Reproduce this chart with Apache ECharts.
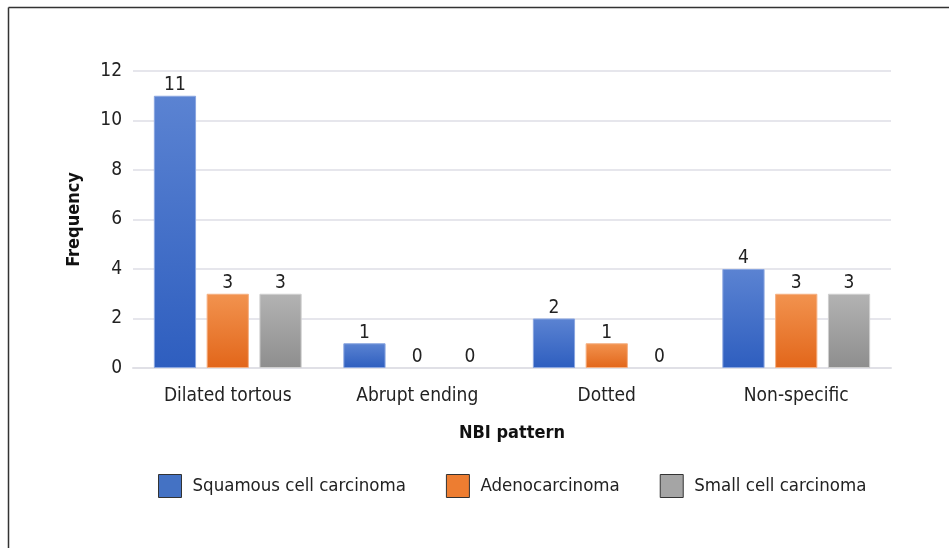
<!DOCTYPE html>
<html><head><meta charset="utf-8">
<script src="https://cdn.jsdelivr.net/npm/echarts@6/dist/echarts.min.js"></script>
<style>html,body{margin:0;padding:0;background:#fff}#c{width:949px;height:548px}</style>
</head><body><div id="c"></div>
<script>
const categories = ['Dilated tortous', 'Abrupt ending', 'Dotted', 'Non-specific'];
const seriesNames = ['Squamous cell carcinoma', 'Adenocarcinoma', 'Small cell carcinoma'];
const squamous = [11, 1, 2, 4];
const adeno = [3, 0, 1, 3];
const smallCell = [3, 0, 0, 3];
const yTicks = [0, 2, 4, 6, 8, 10, 12];

const FONT = '"DejaVu Sans Condensed", "Roboto", sans-serif';
const grads = [
  ['#5b83d2', '#2e5ebf', '#8aa6e0'],
  ['#f2934f', '#e2661a', '#f5b083'],
  ['#b3b3b3', '#8e8e8e', '#cfcfcf']
];
const legendCol = ['#4472c4', '#ed7d31', '#a5a5a5'];
function grad(i){
  return new echarts.graphic.LinearGradient(0,0,0,1,[{offset:0,color:grads[i][0]},{offset:1,color:grads[i][1]}]);
}
const data = [squamous, adeno, smallCell];
const chart = echarts.init(document.getElementById('c'));
chart.setOption({
  animation: false,
  textStyle: {fontFamily: FONT},
  grid: {left: 133, right: 58, top: 71, bottom: 180},
  graphic: [
    {type:'line', shape:{x1:8.5,y1:7.5,x2:949,y2:7.5}, style:{stroke:'#333',lineWidth:1.5}},
    {type:'line', shape:{x1:8.5,y1:7.5,x2:8.5,y2:548}, style:{stroke:'#333',lineWidth:1.5}}
  ],
  legend: {
    top: 469, left: 153,
    itemWidth: 23, itemHeight: 23, itemGap: 40,
    textStyle: {fontSize: 18.5, color: '#222', fontFamily: FONT, padding: [0,0,0,6]},
    data: seriesNames.map((n,i)=>({name:n, icon:'rect', itemStyle:{color:legendCol[i], borderColor:'#333', borderWidth:1}}))
  },
  xAxis: {
    type: 'category', data: categories,
    name: 'NBI pattern', nameLocation: 'middle', nameGap: 56,
    nameTextStyle: {fontSize: 18, fontWeight: 'bold', color: '#111', fontFamily: FONT},
    axisLine: {show: true, lineStyle: {color: '#e0e0e6', width: 2}},
    axisTick: {show: false},
    axisLabel: {fontSize: 19, color: '#222', margin: 19, fontFamily: FONT}
  },
  yAxis: {
    type: 'value', min: 0, max: 12, interval: 2,
    name: 'Frequency', nameLocation: 'middle', nameGap: 50,
    nameTextStyle: {fontSize: 18, fontWeight: 'bold', color: '#111', fontFamily: FONT},
    axisLine: {show: false}, axisTick: {show: false},
    axisLabel: {fontSize: 19, color: '#222', margin: 11, fontFamily: FONT,
      formatter: v => yTicks.includes(v) ? String(v) : ''},
    splitLine: {lineStyle: {color: '#e6e6ec', width: 2}}
  },
  series: seriesNames.map((n,i)=>({
    name: n, type: 'bar',
    data: data[i].map(v => v === 0 ? {value: v, itemStyle: {borderWidth: 0, opacity: 0}, label: {opacity: 1}} : v),
    barGap: '25%', barCategoryGap: '22%',
    itemStyle: {color: grad(i), borderColor: grads[i][2], borderWidth: 1},
    label: {show: true, position: 'top', distance: 1, fontSize: 19, color: '#222', fontFamily: FONT}
  }))
});
</script></body></html>
